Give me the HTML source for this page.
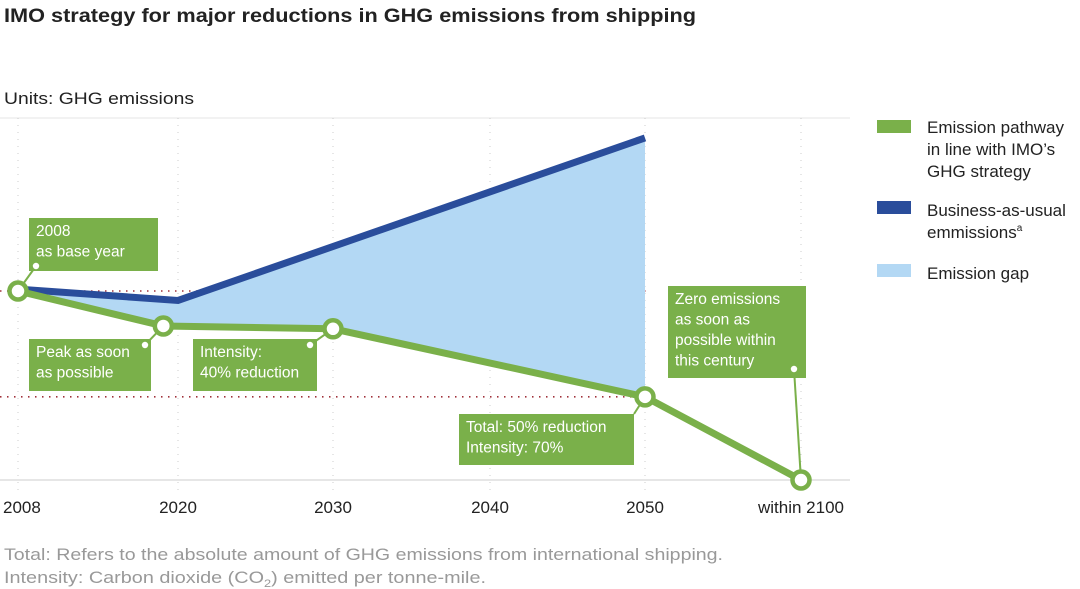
<!DOCTYPE html>
<html><head><meta charset="utf-8"><style>
html,body{margin:0;padding:0;background:#fff;width:1080px;height:589px;overflow:hidden;font-family:"Liberation Sans",sans-serif}
</style></head><body>
<svg id="chart" width="1080" height="589" viewBox="0 0 1080 589" xmlns="http://www.w3.org/2000/svg" font-family="Liberation Sans, sans-serif">
<text x="4" y="22" font-size="19" font-weight="bold" fill="#222" textLength="692" lengthAdjust="spacingAndGlyphs">IMO strategy for major reductions in GHG emissions from shipping</text>
<text x="4" y="104" font-size="17" fill="#222" textLength="190" lengthAdjust="spacingAndGlyphs">Units: GHG emissions</text>
<g id="grid"></g>
<g id="plot"></g>
<g id="annotations"></g>
<g>
<rect x="877" y="120" width="34" height="13" fill="#7ab04a"/>
<text font-size="17" fill="#222"><tspan x="927" y="133">Emission pathway</tspan><tspan x="927" y="155">in line with IMO’s</tspan><tspan x="927" y="177">GHG strategy</tspan></text>
<rect x="877" y="201" width="34" height="13" fill="#2a4d9b"/>
<text font-size="17" fill="#222"><tspan x="927" y="216">Business-as-usual</tspan><tspan x="927" y="238">emmissions</tspan><tspan font-size="10" dy="-7">a</tspan></text>
<rect x="877" y="264" width="34" height="13" fill="#b3d8f4"/>
<text x="927" y="279" font-size="17" fill="#222">Emission gap</text>
</g>
<text x="4" y="560" font-size="17" fill="#999" textLength="719" lengthAdjust="spacingAndGlyphs">Total: Refers to the absolute amount of GHG emissions from international shipping.</text>
<text x="4" y="583" font-size="17" fill="#999" textLength="482" lengthAdjust="spacingAndGlyphs">Intensity: Carbon dioxide (CO<tspan font-size="11" dy="4">2</tspan><tspan dy="-4">) emitted per tonne-mile.</tspan></text>
</svg>
<script>
const tickYears = [2008, 2020, 2030, 2040, 2050, 2100];
const tickLabels = ["2008", "2020", "2030", "2040", "2050", "within 2100"];
const pathwayYears = [2008, 2018.9, 2030, 2050, 2100];
const pathwayValues = [100, 81.5, 80, 44, 0];
const bauYears = [2008, 2020, 2050];
const bauValues = [101, 95, 181];
const refLevels = [100, 44];

const tickPx = [18, 178, 333, 490, 645, 801];
function xs(yr){
  for(let i=0;i<tickYears.length-1;i++){
    if(yr<=tickYears[i+1]){const t=(yr-tickYears[i])/(tickYears[i+1]-tickYears[i]);return tickPx[i]+t*(tickPx[i+1]-tickPx[i]);}
  }
  return tickPx[tickPx.length-1];
}
function ys(v){return 480 - v*1.89;}
function interp(xsArr, vs, yr){
  for(let i=0;i<xsArr.length-1;i++){if(yr<=xsArr[i+1]){const t=(yr-xsArr[i])/(xsArr[i+1]-xsArr[i]);return vs[i]+t*(vs[i+1]-vs[i]);}}
  return vs[vs.length-1];
}
const NS="http://www.w3.org/2000/svg";
function mk(tag,attrs,parent){const el=document.createElementNS(NS,tag);for(const k in attrs)el.setAttribute(k,attrs[k]);parent.appendChild(el);return el;}
const gridG=document.getElementById('grid'), plotG=document.getElementById('plot'), annG=document.getElementById('annotations');

let ln=mk('line',{x1:0,x2:850,y1:118,y2:118,stroke:'#e4e4e4','stroke-width':1},gridG);


ln=mk('line',{x1:0,x2:850,y1:480,y2:480,stroke:'#ccc','stroke-width':1},gridG);


tickYears.forEach((yr,i)=>{
  const x=xs(yr);
  const g=mk('line',{x1:x,x2:x,y1:118,y2:490,stroke:'#ccc','stroke-width':1,'stroke-dasharray':'1 6'},gridG);
  
  
  const first=i===0;
  const t=mk('text',{x:first?3:x,y:513,'font-size':17,fill:'#222','text-anchor':first?'start':'middle','font-family':'Liberation Sans Narrow, Liberation Sans, sans-serif'},gridG);
  t.textContent=tickLabels[i];
  
  
});
refLevels.forEach((v,i)=>{
  const l=mk('line',{x1:0,x2:650,y1:ys(v),y2:ys(v),stroke:'#a0303a','stroke-width':1.6,'stroke-dasharray':'1.5 5.5'},gridG);
  
  
});

const yrsSet=[...new Set([...pathwayYears.filter(y=>y<=2050),...bauYears])].sort((a,b)=>a-b);
const upperPts=yrsSet.map(y=>xs(y)+','+ys(interp(bauYears,bauValues,y)));
const lowerPts=yrsSet.slice().reverse().map(y=>xs(y)+','+ys(interp(pathwayYears,pathwayValues,y)));
const area=mk('polygon',{points:upperPts.concat(lowerPts).join(' '),fill:'#b3d8f4'},plotG);



const bau=mk('polyline',{points:bauYears.map((y,i)=>xs(y)+','+ys(bauValues[i])).join(' '),fill:'none',stroke:'#2a4d9b','stroke-width':7,'stroke-linejoin':'miter'},plotG);


const pw=mk('polyline',{points:pathwayYears.map((y,i)=>xs(y)+','+ys(pathwayValues[i])).join(' '),fill:'none',stroke:'#7ab04a','stroke-width':7,'stroke-linejoin':'round'},plotG);



const boxes=[
  [29,218,129,53,["2008","as base year"],36,266,'box-base-year'],
  [29,339,122,52,["Peak as soon","as possible"],145,345,'box-peak'],
  [193,339,124,52,["Intensity:","40% reduction"],310,345,'box-intensity-40'],
  [459,414,175,51,["Total: 50% reduction","Intensity: 70%"],null,null,'box-total-50'],
  [668,286,138,92,["Zero emissions","as soon as","possible within","this century"],794,369,'box-zero'],
];
const conns=[[36,266,0],[145,345,1],[310,345,2],[634,414,3],[794,369,4]];
conns.forEach(c=>{
  const l=mk('line',{x1:c[0],y1:c[1],x2:xs(pathwayYears[c[2]]),y2:ys(pathwayValues[c[2]]),stroke:'#7ab04a','stroke-width':2},annG);
  
  
});
boxes.forEach(b=>{
  const r=mk('rect',{x:b[0],y:b[1],width:b[2],height:b[3],fill:'#7ab04a'},annG);
  
  
  const t=mk('text',{'font-size':15.5,fill:'#fff'},annG);
  
  
  b[4].forEach((s,j)=>{const ts=mk('tspan',{x:b[0]+7,y:b[1]+18+j*20.5},t);ts.textContent=s;});
  if(b[5]!==null){const d=mk('circle',{cx:b[5],cy:b[6],r:3.2,fill:'#fff'},annG);
    
    }
});
pathwayYears.forEach((y,i)=>{
  const c=mk('circle',{cx:xs(y),cy:ys(pathwayValues[i]),r:8.5,fill:'#fff',stroke:'#7ab04a','stroke-width':4.5},annG);
  
  
});
</script>
</body></html>
